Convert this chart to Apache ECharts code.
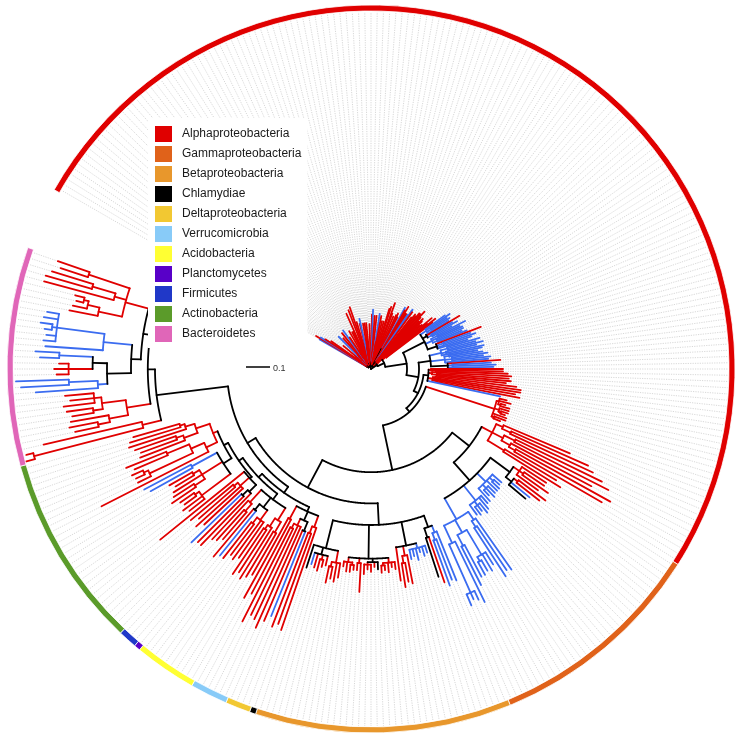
<!DOCTYPE html>
<html>
<head>
<meta charset="utf-8">
<script src="https://cdn.jsdelivr.net/npm/echarts@6/dist/echarts.min.js"></script>
<style>
    html, body { margin: 0; padding: 0; background: #fff; }
    #treeChart { width: 737px; height: 738px; }
</style>
</head>
<body>
<div id="treeChart"></div>
<script>
// ---- data ----
// leaves: r = red branch, b = blue branch, k = black branch; clade names are expanded
const STAR = "((b:.23,r:.25,(b:.22,r:.2):.01):.005,(r:.04,r:.18,(r:.03,r:.02,r:.05):.01,r:.03):.01,(r:.13,(r:.02,r:.03):.02,r:.04,r:.02,b:.17):.008,((r:.02,r:.03,r:.12):.03,(r:.04,r:.02):.02,r:.17,r:.03):.01,(r:.03,b:.18,r:.02,(r:.1,r:.03,r:.02):.04):.006,((r:.02,r:.11):.05,(r:.03,r:.02,r:.12,r:.04):.03,r:.15):.01,((r:.17,r:.03,r:.02):.05,r:.23,(r:.04,r:.2):.04,r:.03):.02,(r:.18,r:.03,(r:.02,r:.14):.03,b:.19,r:.04):.012,((r:.02,r:.12,r:.03):.05,(r:.13,r:.02):.04,r:.17,r:.03,r:.04):.01,(r:.03,(r:.12,r:.02,r:.03):.04,r:.2,b:.22,r:.04):.015,(r:.2,(r:.02,r:.17,r:.03):.03,r:.04,b:.21):.01,((r:.03,r:.14):.06,(r:.02,r:.13,r:.03):.05,r:.18):.012,((r:.03,r:.18):.05,r:.24,(r:.02,r:.23):.03):.02,(r:.22,r:.03,(r:.18,r:.02,r:.19):.03,r:.23):.015,((r:.15,r:.03,b:.2):.06,(r:.2,r:.22):.05,r:.24):.02,(r:.24,(b:.22,b:.25):.02,r:.26,r:.03,(r:.2,r:.22):.04):.02,(r:.25,r:.27,(r:.24,r:.26):.03,r:.26):.025)";
const URA1 = "((r:.2,r:.22):.04,r:.25,r:.23)";
const URA2 = "(r:.2,(r:.22,r:.19):.03,r:.26,r:.24)";
const URBA = "((b:.1,b:.12,(b:.08,b:.09):.02):.03,(b:.11,r:.16,(b:.1,b:.12,b:.09):.02):.02,((b:.13,b:.1):.03,b:.14,(b:.12,b:.11,b:.13):.02):.03,(r:.2,(b:.12,b:.14):.03,b:.15,b:.13):.04)";
const URBB = "(((b:.14,b:.12,b:.15):.03,(b:.13,b:.16):.02,b:.17):.05,((b:.12,b:.14):.02,(b:.15,b:.13,b:.16):.03,b:.18):.06,(r:.22,(b:.16,b:.18):.02,b:.19):.07)";
const R1 = "((r:.3,(r:.28,r:.3):.02):.01,(r:.33,(r:.3,r:.31,r:.29):.02):.015,((r:.34,r:.36):.01,r:.37,(r:.33,r:.35):.02):.02,b:.31)";
const R2 = "((r:.03,r:.05,(r:.02,r:.04):.01):.01,(r:.04,(r:.03,r:.02):.01):.02,r:.06,(r:.05,r:.03):.01)";
const R3 = "((r:.3,(r:.35,r:.38):.04):.03,((r:.4,r:.44):.05,(r:.38,(r:.45,r:.42):.03):.04):.05,(r:.25,r:.28):.08)";
const GAMMA = "(((r:.12,(r:.1,r:.13):.02,r:.11):.03,((r:.14,r:.12):.02,b:.1,k:.09):.03):.1,(b:.05,(b:.03,b:.04):.02,b:.06,(b:.04,b:.05,b:.03):.02,b:.07):.05,(b:.04,b:.06,(b:.05,b:.03,b:.04):.02,b:.05):.08,((b:.26,(b:.22,b:.24):.03):.04,((b:.06,b:.08,(b:.05,b:.06):.02):.12,(b:.15,b:.18):.05):.06,(b:.28,(b:.04,b:.03,b:.05):.22):.08):.1)";
const BETA = "(((b:.22,(b:.18,b:.2):.03):.03,(r:.2,k:.17):.04):.05,((b:.03,b:.04,b:.02,b:.05,b:.03,b:.04):.02,(r:.12,(r:.08,r:.1):.03):.04,r:.14):.1,((r:.03,r:.02,r:.04,(r:.02,r:.03):.01):.02,(k:.03,r:.02,(r:.03,r:.02,r:.04):.01):.015,(r:.12,r:.03):.02,((r:.02,r:.03):.01,r:.04,r:.02):.02):.14,((r:.06,r:.08,(r:.05,r:.07):.02):.05,(r:.04,(r:.03,r:.05):.02,r:.06,b:.05):.03,k:.1):.12)";
const DV = "((r:.45,(r:.4,r:.42):.03):.05,((b:.38,r:.41):.04,(r:.46,r:.43,(r:.4,r:.44):.02):.03):.04,(r:.35,r:.38):.06)";
const APF = "(((r:.2,r:.22):.05,(r:.25,(r:.21,r:.23):.02):.04):.06,((r:.18,r:.2,(r:.16,r:.19):.03):.05,(b:.24,r:.26):.03):.05,((r:.15,r:.17):.04,r:.22):.07)";
const A1 = "((r:.3,(r:.27,b:.29):.03):.04,(r:.22,r:.25,(r:.2,r:.23):.02):.05,r:.45)";
const A2 = "((r:.08,r:.1,(r:.06,r:.07):.02):.15,((r:.12,r:.1):.05,r:.14,(r:.09,r:.11):.03):.1,(b:.2,b:.22):.12)";
const A3 = "(r:.5,((r:.06,(r:.04,r:.05):.02):.2,(r:.15,r:.18):.1):.06)";
const A4 = "((r:.2,(r:.16,r:.18):.03):.06,(r:.25,(r:.22,r:.2):.02):.04)";
const BA = "((r:.04,r:.03):.47,r:.42)";
const BB = "(((r:.1,r:.12):.05,r:.16):.08,((r:.09,r:.11):.04,(r:.13,r:.1,r:.12):.03):.1)";
const BC = "((b:.26,(b:.2,b:.22):.12):.04,((r:.05,r:.06,r:.04):.1,(b:.08,b:.1):.14):.06)";
const BD = "(b:.24,(b:.05,b:.04,(b:.03,b:.05):.02,b:.06,b:.05):.2)";
const BE = "((r:.12,(r:.06,(r:.03,r:.04):.02):.05):.1,(r:.3,(r:.2,r:.18):.1):.05,(r:.12,r:.14):.18)";
const LADDER = "(DV:.02,(APF:.03,(A1:.01,(A2:.04,(A3:.05,A4:.06):.02):.02):.02):.02)";
const BACT = "(BA:.08,(BB:.1,((BC:.1,BD:.12):.04,BE:.1):.03):.03)";
const BACKBONE = "(STAR:.012,(URA1:.01,(URA2:.02,(URBA:.1,(URBB:.05,(R1:.02,(R2:.3,((R3:.05,GAMMA:.1):.09,(BETA:.09,(LADDER:.03,BACT:.3):.04):.13):.19):.02):.02):.05):.09):.03):.03)";

const phylumNames = ['Alphaproteobacteria', 'Gammaproteobacteria', 'Betaproteobacteria', 'Chlamydiae',
    'Deltaproteobacteria', 'Verrucomicrobia', 'Acidobacteria', 'Planctomycetes', 'Firmicutes',
    'Actinobacteria', 'Bacteroidetes'];
const phylumColors = ['#e00000', '#e0621a', '#e8972c', '#000000', '#f2c832', '#88cbf8', '#ffff33',
    '#5800c8', '#2038c8', '#5b9b2a', '#e066b8'];
const phylumLeafCounts = [183, 35, 41, 1, 4, 6, 10, 1, 3, 31, 35];
const gapSlots = 10;
const scaleBarValue = 0.1;

// ---- layout ----
const cladeSource = { STAR, URA1, URA2, URBA, URBB, R1, R2, R3, GAMMA, BETA, DV, APF, A1, A2, A3, A4,
    BA, BB, BC, BD, BE, LADDER, BACT };
const branchColor = { r: '#e00000', b: '#3b6cf0', k: '#000000' };

const POLAR_R = 364;
const UNIT_PX = 240;
const CENTER = [371, 369];

function parseNewick(src) {
    const str = src.replace(/\s+/g, '');
    let pos = 0;
    function readNode() {
        const n = { children: [], len: 0, name: '' };
        if (str[pos] === '(') {
            pos++;
            n.children.push(readNode());
            while (str[pos] === ',') { pos++; n.children.push(readNode()); }
            pos++;
        }
        let name = '';
        while (pos < str.length && !',():'.includes(str[pos])) name += str[pos++];
        if (str[pos] === ':') {
            pos++;
            let num = '';
            while (pos < str.length && !',()'.includes(str[pos])) num += str[pos++];
            n.len = parseFloat(num);
        }
        n.name = name;
        if (!n.children.length && cladeSource[name]) {
            const sub = parseNewick(cladeSource[name]);
            sub.len = n.len;
            return sub;
        }
        return n;
    }
    return readNode();
}

const root = parseNewick(BACKBONE);
root.len = 0;
const nodes = [];
const leaves = [];
function layout(n, parentR) {
    n.parentR = parentR;
    n.r = parentR + n.len;
    if (!n.children.length) {
        n.angle = leaves.length;
        n.color = branchColor[n.name] || '#000';
        leaves.push(n);
    } else {
        n.children.forEach(c => layout(c, n.r));
        n.angle = (n.children[0].angle + n.children[n.children.length - 1].angle) / 2;
        const cols = new Set(n.children.map(c => c.color));
        n.color = cols.size === 1 ? n.children[0].color : '#000';
    }
    nodes.push(n);
}
layout(root, 0);
console.log('leaves', leaves.length);

const totalSlots = leaves.length + gapSlots;
const radiusMax = POLAR_R / UNIT_PX;
const ringInner = POLAR_R - 6;
const tipLineEnd = (ringInner - 1) / UNIT_PX;

let chartDom = document.getElementById('treeChart');
let chart = echarts.init(chartDom);

let option = {
    animation: false,
    backgroundColor: '#fff',
    textStyle: { fontFamily: 'Liberation Sans' },
    polar: { center: CENTER, radius: POLAR_R },
    angleAxis: {
        type: 'value', min: -0.5, max: totalSlots - 0.5,
        startAngle: 150.5, clockwise: true, show: false
    },
    radiusAxis: { type: 'value', min: 0, max: radiusMax, show: false },
    legend: {
        data: phylumNames,
        orient: 'vertical',
        left: 148,
        top: 118,
        padding: [6, 6, 4, 5],
        backgroundColor: '#fff',
        icon: 'rect',
        itemWidth: 19,
        itemHeight: 18,
        itemGap: 0,
        selectedMode: false,
        textStyle: { fontSize: 12, color: '#1a1a1a', fontFamily: 'Liberation Sans', padding: [0, 0, 0, 4] }
    },
    graphic: [
        {
            type: 'line',
            shape: { x1: 246, y1: 367, x2: 246 + scaleBarValue * UNIT_PX, y2: 367 },
            style: { stroke: '#000', lineWidth: 1.5 }
        },
        {
            type: 'text', left: 273, top: 364,
            style: { text: String(scaleBarValue), fontSize: 9, fill: '#333', fontFamily: 'Liberation Sans' }
        }
    ],
    series: [
        {
            // dotted guides from each tip out to the ring
            type: 'custom',
            coordinateSystem: 'polar',
            silent: true,
            data: leaves.map(l => [l.r, l.angle]),
            renderItem: function (params, api) {
                const l = leaves[params.dataIndex];
                const p0 = api.coord([l.r, l.angle]);
                const p1 = api.coord([tipLineEnd, l.angle]);
                return {
                    type: 'line',
                    shape: { x1: p0[0], y1: p0[1], x2: p1[0], y2: p1[1] },
                    style: { stroke: '#bdbdbd', lineWidth: 0.6, lineDash: [1.2, 1.2] }
                };
            }
        },
        {
            type: 'custom',
            coordinateSystem: 'polar',
            silent: true,
            data: nodes.map(n => [n.r, n.angle]),
            renderItem: function (params, api) {
                const n = nodes[params.dataIndex];
                const style = { stroke: n.color, lineWidth: 1.8, fill: null, lineCap: 'round', lineJoin: 'round' };
                const kids = [];
                if (n.r > n.parentR) {
                    kids.push({
                        type: 'polyline',
                        shape: { points: [api.coord([n.parentR, n.angle]), api.coord([n.r, n.angle])] },
                        style: style
                    });
                }
                if (n.children.length) {
                    const a0 = n.children[0].angle;
                    const a1 = n.children[n.children.length - 1].angle;
                    const pts = [];
                    for (let a = a0; a < a1; a += 0.25) pts.push(api.coord([n.r, a]));
                    pts.push(api.coord([n.r, a1]));
                    kids.push({ type: 'polyline', shape: { points: pts }, style: style });
                }
                return { type: 'group', children: kids };
            }
        },
        {
            type: 'pie',
            center: CENTER,
            radius: [ringInner, POLAR_R],
            startAngle: 150.5,
            clockwise: true,
            silent: true,
            label: { show: false },
            labelLine: { show: false },
            itemStyle: { borderColor: '#fff', borderWidth: 0.8 },
            data: phylumNames.map((nm, i) => ({
                name: nm, value: phylumLeafCounts[i], itemStyle: { color: phylumColors[i] }
            })).concat([{ name: 'gap', value: gapSlots, itemStyle: { color: 'rgba(0,0,0,0)', borderWidth: 0 } }])
        }
    ]
};

chart.setOption(option);

window.addEventListener('resize', () => {
    chart.resize();
});
</script>
</body>
</html>
